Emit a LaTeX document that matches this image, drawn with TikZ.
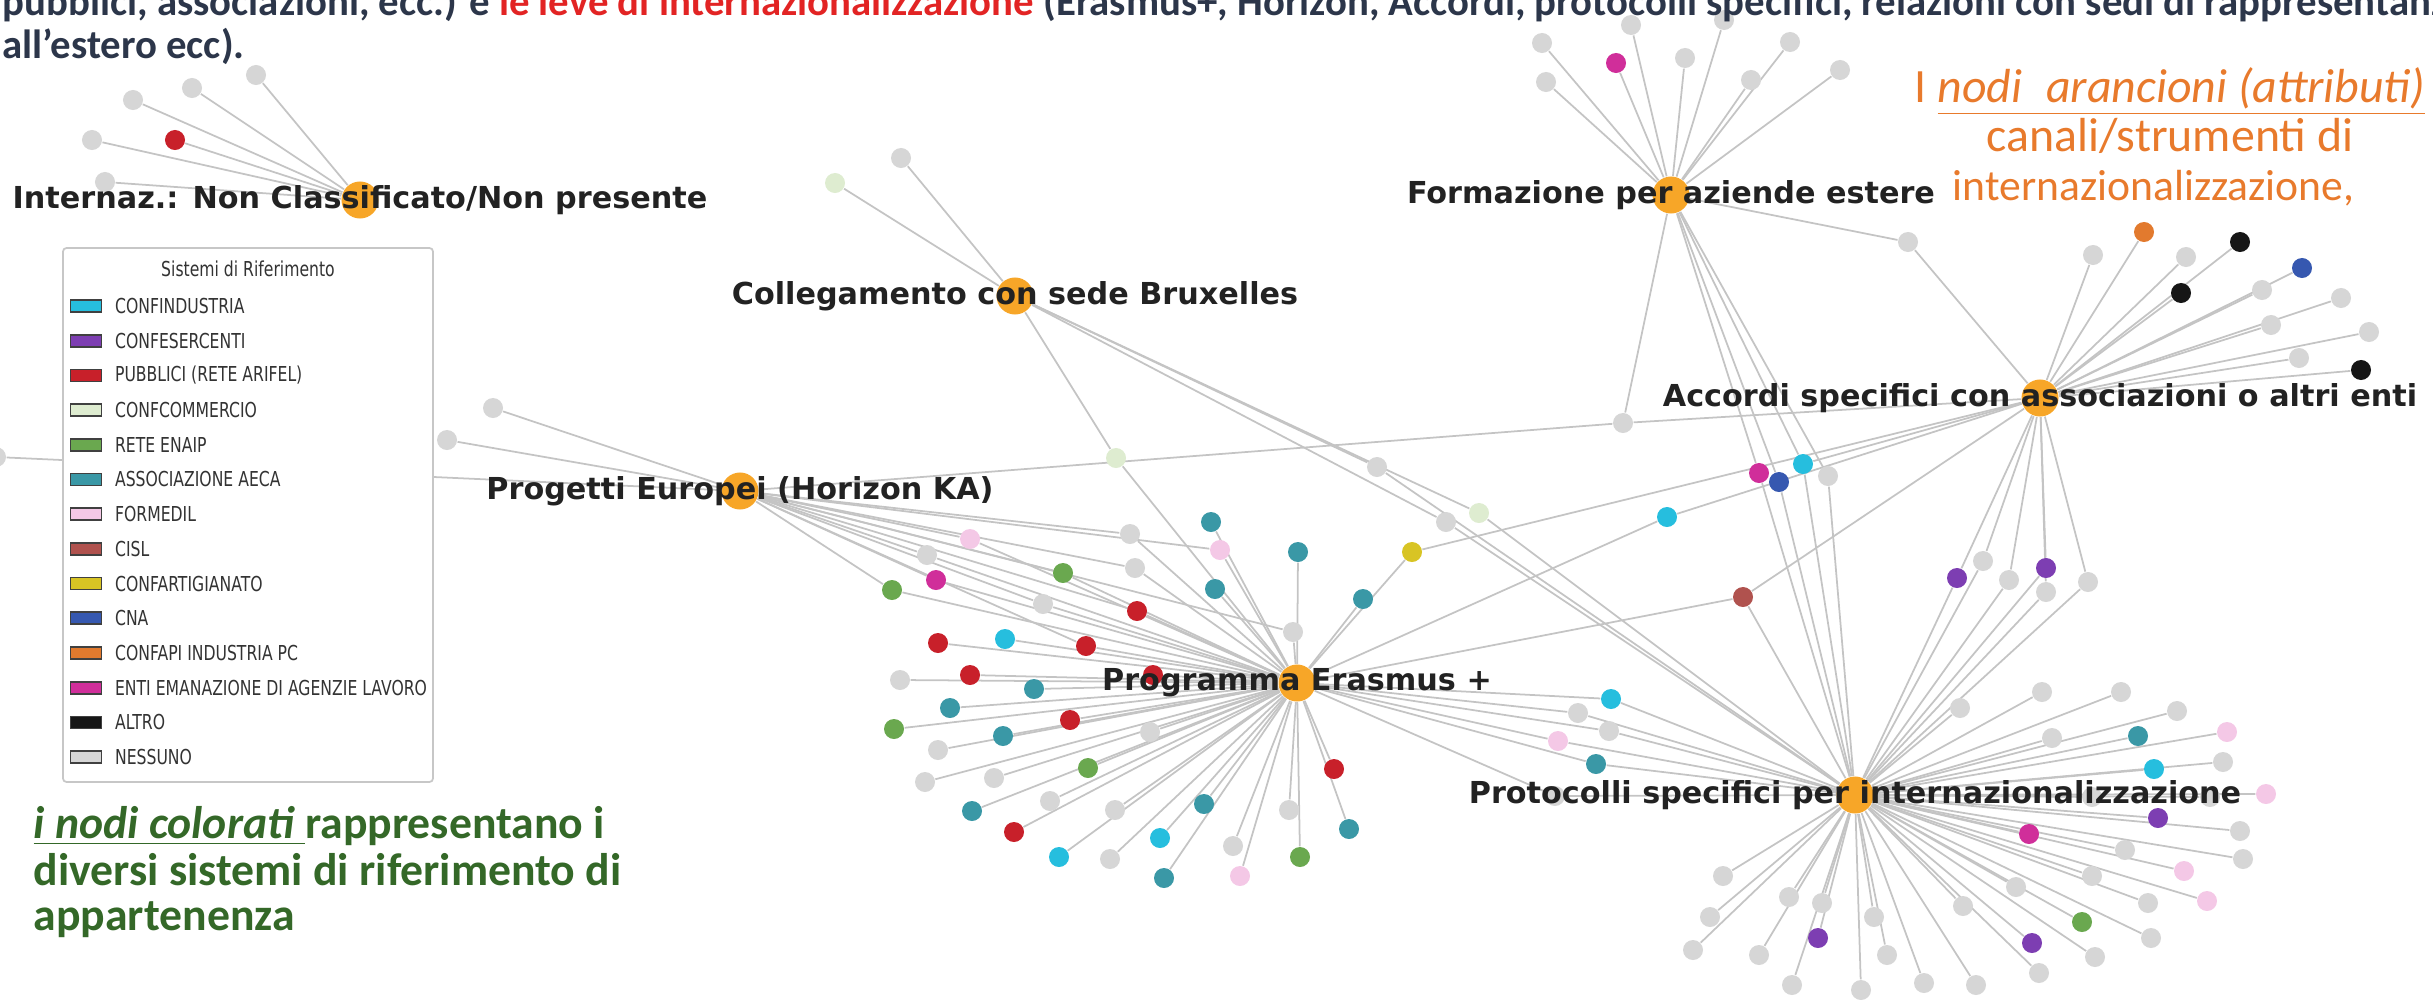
\documentclass[tikz,border=0pt]{standalone}
\usepackage{fontspec}
\setmainfont{Carlito}
\newfontfamily\hubfont{DejaVu Sans}
\newfontfamily\legfont{DejaVu Sans}[FakeStretch=0.76]
\usetikzlibrary{positioning,backgrounds}

\definecolor{hubor}{RGB}{247,166,40}
\definecolor{cInd}{RGB}{38,190,222}
\definecolor{cEse}{RGB}{125,62,178}
\definecolor{cPub}{RGB}{200,32,42}
\definecolor{cCom}{RGB}{222,236,208}
\definecolor{cEna}{RGB}{106,168,79}
\definecolor{cAec}{RGB}{58,152,166}
\definecolor{cFor}{RGB}{244,200,230}
\definecolor{cCis}{RGB}{176,82,78}
\definecolor{cArt}{RGB}{216,196,36}
\definecolor{cCna}{RGB}{54,88,176}
\definecolor{cApi}{RGB}{226,122,46}
\definecolor{cEnt}{RGB}{208,46,154}
\definecolor{cAlt}{RGB}{22,22,22}
\definecolor{cNes}{RGB}{214,214,214}
\definecolor{edgegray}{RGB}{196,196,196}
\definecolor{hdrtext}{RGB}{44,54,74}
\definecolor{hdrred}{RGB}{226,36,36}
\definecolor{noteorange}{RGB}{232,122,44}
\definecolor{notegreen}{RGB}{52,104,40}
\definecolor{labtext}{RGB}{34,34,34}

\begin{document}
\begin{tikzpicture}[x=0.01cm,y=-0.01cm,
	hub/.style={circle,fill=hubor,inner sep=0pt,minimum size=3.7mm},
	leaf/.style={circle,inner sep=0pt,minimum size=2mm},
	edge/.style={draw=edgegray,line width=0.5pt},
	hublabel/.style={font=\hubfont\bfseries\fontsize{8.6}{10}\selectfont,text=labtext,inner sep=0pt},
	legbox/.style={draw=black!22,fill=white,line width=0.5pt,rounded corners=1pt},
	legpatch/.style={draw=black!75,line width=0.5pt,minimum width=3.1mm,minimum height=1.2mm,inner sep=0pt},
	legtext/.style={font=\legfont\fontsize{5.85}{7}\selectfont,text=black!80,inner sep=0pt},
	header/.style={font=\bfseries\fontsize{11.6}{13}\selectfont,text=hdrtext,inner sep=0pt},
	orangenote/.style={font=\fontsize{13.6}{15}\selectfont,text=noteorange,inner sep=0pt},
	greennote/.style={font=\bfseries\fontsize{13}{15}\selectfont,text=notegreen,inner sep=0pt}
	]
\useasboundingbox (0,0) rectangle (2433,1000);
\clip (0,0) rectangle (2433,1000);

% attribute hubs
\node[hub] (hNC) at (360,200) {};
\node[hub] (hBX) at (1015,296) {};
\node[hub] (hFA) at (1671,195) {};
\node[hub] (hPE) at (740,491) {};
\node[hub] (hAC) at (2040,398) {};
\node[hub] (hER) at (1297,683) {};
\node[hub] (hPR) at (1855,795) {};

% entities
\foreach \px/\py/\c [count=\i] in {256/75/cNes,192/88/cNes,133/100/cNes,175/140/cPub,92/140/cNes,105/182/cNes}
	\node[leaf,fill=\c] (nc\i) at (\px,\py) {};
\foreach \px/\py/\c [count=\i] in {835/183/cCom,901/158/cNes,1116/458/cCom,1377/467/cNes,1446/522/cNes,1479/513/cCom}
	\node[leaf,fill=\c] (bx\i) at (\px,\py) {};
\foreach \px/\py/\c [count=\i] in {493/408/cNes,447/440/cNes,-4/457/cNes,1623/423/cNes}
	\node[leaf,fill=\c] (pe\i) at (\px,\py) {};
\foreach \px/\py/\c [count=\i] in {1542/43/cNes,1546/82/cNes,1616/63/cEnt,1631/25/cNes,1685/58/cNes,
	1724/20/cNes,1751/80/cNes,1790/42/cNes,1840/70/cNes,1908/242/cNes}
	\node[leaf,fill=\c] (fa\i) at (\px,\py) {};
\foreach \px/\py/\c [count=\i] in {1759/473/cEnt,1779/482/cCna,1803/464/cInd,1828/476/cNes}
	\node[leaf,fill=\c] (fp\i) at (\px,\py) {};
\foreach \px/\py/\c [count=\i] in {2144/232/cApi,2240/242/cAlt,2093/255/cNes,2186/257/cNes,2302/268/cCna,2181/293/cAlt,
	2262/290/cNes,2341/298/cNes,2271/325/cNes,2369/332/cNes,2299/358/cNes,2361/370/cAlt}
	\node[leaf,fill=\c] (ac\i) at (\px,\py) {};
\foreach \px/\py/\c [count=\i] in {1957/578/cEse,1983/561/cNes,2046/568/cEse,2009/580/cNes,2046/592/cNes,2088/582/cNes}
	\node[leaf,fill=\c] (ap\i) at (\px,\py) {};
\foreach \px/\py/\c [count=\i] in {1667/517/cInd,1412/552/cArt,1743/597/cCis}
	\node[leaf,fill=\c] (ae\i) at (\px,\py) {};
\foreach \px/\py/\c [count=\i] in {1211/522/cAec,1220/550/cFor,1130/534/cNes,1135/568/cNes,1215/589/cAec,
	1298/552/cAec,1363/599/cAec,1293/632/cNes,970/539/cFor,927/555/cNes,936/580/cEnt,892/590/cEna,
	1063/573/cEna,1043/604/cNes,1137/611/cPub,938/643/cPub,1005/639/cInd,1086/646/cPub,900/680/cNes,
	970/675/cPub,1153/675/cPub,1034/689/cAec,950/708/cAec,894/729/cEna,1070/720/cPub,1003/736/cAec,
	938/750/cNes,1150/732/cNes,1088/768/cEna,925/782/cNes,994/778/cNes,1050/801/cNes,972/811/cAec,
	1115/810/cNes,1204/804/cAec,1014/832/cPub,1160/838/cInd,1059/857/cInd,1110/859/cNes,1164/878/cAec,
	1233/846/cNes,1240/876/cFor,1300/857/cEna,1289/810/cNes,1334/769/cPub,1349/829/cAec}
	\node[leaf,fill=\c] (er\i) at (\px,\py) {};
\foreach \px/\py/\c [count=\i] in {1611/699/cInd,1578/713/cNes,1609/731/cNes,1558/741/cFor,1596/764/cAec,1555/796/cNes}
	\node[leaf,fill=\c] (ep\i) at (\px,\py) {};
\foreach \px/\py/\c [count=\i] in {2042/692/cNes,2121/692/cNes,1960/708/cNes,2177/711/cNes,2052/738/cNes,
	2138/736/cAec,2227/732/cFor,2154/769/cInd,2223/762/cNes,2266/794/cFor,2210/797/cNes,2092/797/cNes,
	2158/818/cEse,2029/834/cEnt,2240/831/cNes,2125/850/cNes,2243/859/cNes,2184/871/cFor,2092/876/cNes,
	2207/901/cFor,2148/903/cNes,1963/906/cNes,2016/887/cNes,2082/922/cEna,2151/938/cNes,2032/943/cEse,
	2095/957/cNes,2039/973/cNes,1976/985/cNes,1924/983/cNes,1861/990/cNes,1792/985/cNes,1887/955/cNes,
	1874/917/cNes,1822/903/cNes,1818/938/cEse,1759/955/cNes,1693/950/cNes,1710/917/cNes,1789/897/cNes,
	1723/876/cNes}
	\node[leaf,fill=\c] (pr\i) at (\px,\py) {};

% links
\begin{pgfonlayer}{background}
\foreach \n in {nc1,nc2,nc3,nc4,nc5,nc6} \draw[edge] (hNC) -- (\n);
\foreach \n in {bx1,bx2,bx3,bx4,bx5,bx6} \draw[edge] (hBX) -- (\n);
\foreach \n in {pe1,pe2,pe3,pe4,er2,er3,er4,er8,er9,er10,er11,er12,er13,er14,er15,er18} \draw[edge] (hPE) -- (\n);
\foreach \n in {fa1,fa2,fa3,fa4,fa5,fa6,fa7,fa8,fa9,fa10,fp1,fp2,fp3,fp4,pe4} \draw[edge] (hFA) -- (\n);
\foreach \n in {ac1,ac2,ac3,ac4,ac5,ac6,ac7,ac8,ac9,ac10,ac11,ac12,ap1,ap2,ap3,ap4,ap5,ap6,ae1,ae2,ae3,pe4,fa10,fp3}
	\draw[edge] (hAC) -- (\n);
\foreach \i in {1,...,46} \draw[edge] (hER) -- (er\i);
\foreach \n in {ep1,ep2,ep3,ep4,ep5,ep6,ae1,ae2,ae3,bx3} \draw[edge] (hER) -- (\n);
\foreach \i in {1,...,41} \draw[edge] (hPR) -- (pr\i);
\foreach \n in {ep1,ep2,ep3,ep4,ep5,ep6,ap1,ap2,ap3,ap4,ap5,ap6,fp1,fp2,fp3,fp4,bx4,bx5,bx6,ae3} \draw[edge] (hPR) -- (\n);
\end{pgfonlayer}

% legend
\draw[legbox] (63,248) rectangle (433,782);
\node[legtext] (legtitle) at (248,269) {Sistemi di Riferimento};
\foreach \c/\t [count=\i from 0] in {cInd/CONFINDUSTRIA,cEse/CONFESERCENTI,cPub/PUBBLICI (RETE ARIFEL),
	cCom/CONFCOMMERCIO,cEna/RETE ENAIP,cAec/ASSOCIAZIONE AECA,cFor/FORMEDIL,cCis/CISL,
	cArt/CONFARTIGIANATO,cCna/CNA,cApi/CONFAPI INDUSTRIA PC,cEnt/ENTI EMANAZIONE DI AGENZIE LAVORO,
	cAlt/ALTRO,cNes/NESSUNO}
{
	\node[legpatch,fill=\c] (pat\i) at (86,{306+34.7*\i}) {};
	\node[legtext,right=1.2mm of pat\i] (leg\i) {\t};
}

% hub labels
\node[hublabel] (lNC) at (hNC) {Internaz.: Non Classificato/Non presente};
\node[hublabel] (lBX) at (hBX) {Collegamento con sede Bruxelles};
\node[hublabel] (lFA) at (hFA) {Formazione per aziende estere};
\node[hublabel] (lPE) at (hPE) {Progetti Europei (Horizon KA)};
\node[hublabel] (lAC) at (hAC) {Accordi specifici con associazioni o altri enti};
\node[hublabel] (lER) at (hER) {Programma Erasmus +};
\node[hublabel] (lPR) at (hPR) {Protocolli specifici per internazionalizzazione};

% slide text
\node[header,anchor=base west] (hdrA) at (2,15) {pubblici, associazioni, ecc.) e \textcolor{hdrred}{le leve di internazionalizzazione} (Erasmus+, Horizon, Accordi, protocolli specifici, relazioni con sedi di rappresentanza};
\node[header,anchor=base west] (hdrB) at (2,58) {all’estero ecc).};

\node[orangenote,anchor=base] (orA) at (2170,102) {I \underline{\textit{nodi\enspace arancioni (attributi)}}};
\node[orangenote,anchor=base] (orB) at (2170,151) {canali/strumenti di};
\node[orangenote,anchor=base west,font=\fontsize{12.4}{15}\selectfont] (orC) at (1952,200) {internazionalizzazione,};

\node[greennote,anchor=base west] (grA) at (33,838) {\underline{\textit{i nodi colorati\ }}rappresentano i};
\node[greennote,anchor=base west] (grB) at (33,885) {diversi sistemi di riferimento di};
\node[greennote,anchor=base west] (grC) at (33,930) {appartenenza};

\end{tikzpicture}
\end{document}
